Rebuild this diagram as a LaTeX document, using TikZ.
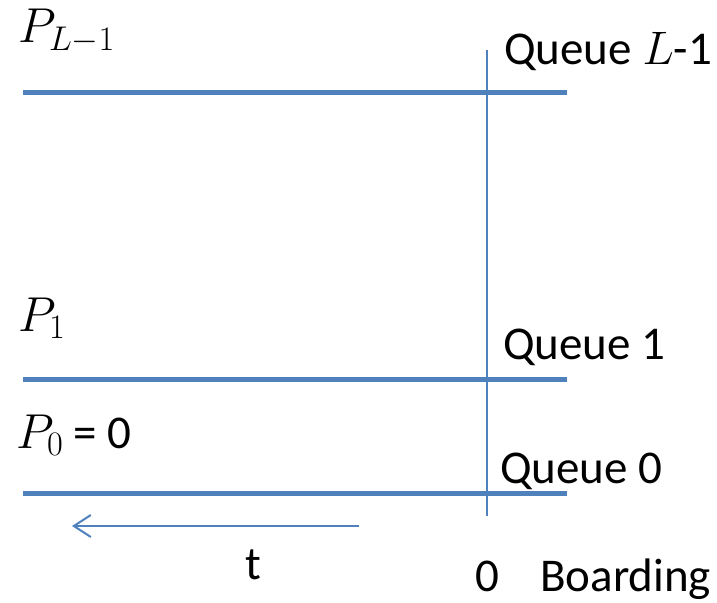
\RequirePackage{fix-cm}
\documentclass[tikz,border=0pt]{standalone}
\usepackage{fontspec}
\setmainfont{Carlito}
\usetikzlibrary{arrows.meta}
\definecolor{qblue}{HTML}{4F81BD}
\begin{document}
\begin{tikzpicture}[x=1pt,y=-1pt,
  queue/.style={line width=5pt,qblue},
  lbl/.style={anchor=base west,inner sep=0pt,font=\fontsize{47}{50}\selectfont},
  mlbl/.style={anchor=base west,inner sep=0pt,font=\fontsize{49}{52}\selectfont}]
\useasboundingbox (0,0) rectangle (717,602);
% queue lines
\coordinate (aL) at (23,92);  \coordinate (bL) at (567,92);
\coordinate (a1) at (23,379); \coordinate (b1) at (567,379);
\coordinate (a0) at (23,493); \coordinate (b0) at (567,493);
\draw[queue] (aL) -- (bL);
\draw[queue] (a1) -- (b1);
\draw[queue] (a0) -- (b0);
% boarding axis
\coordinate (vt) at (487,50); \coordinate (vb) at (487,516);
\draw[qblue,line width=2pt] (vt) -- (vb);
% time arrow
\coordinate (ts) at (359,526); \coordinate (te) at (72,526);
\draw[qblue,line width=2pt,-{Straight Barb[length=17pt,width=22pt,line width=2pt]}] (ts) -- (te);
% labels
\node[mlbl] (pL) at (18,43) {$P_{L-1}$};
\node[mlbl] (p1) at (18,331) {$P_1$};
\node[mlbl] (p0) at (16,448) {$P_0$};
\node[lbl] (eq0) at (73,448) {= 0};
\node[lbl] (qL) at (504,65) {Queue $L$-1};
\node[lbl] (q1) at (503,359) {Queue 1};
\node[lbl] (q0) at (500,483) {Queue 0};
\node[lbl] (t) at (245,579) {t};
\node[lbl] (zero) at (475,591) {0};
\node[lbl] (board) at (540,591) {Boarding};
\end{tikzpicture}
\end{document}
